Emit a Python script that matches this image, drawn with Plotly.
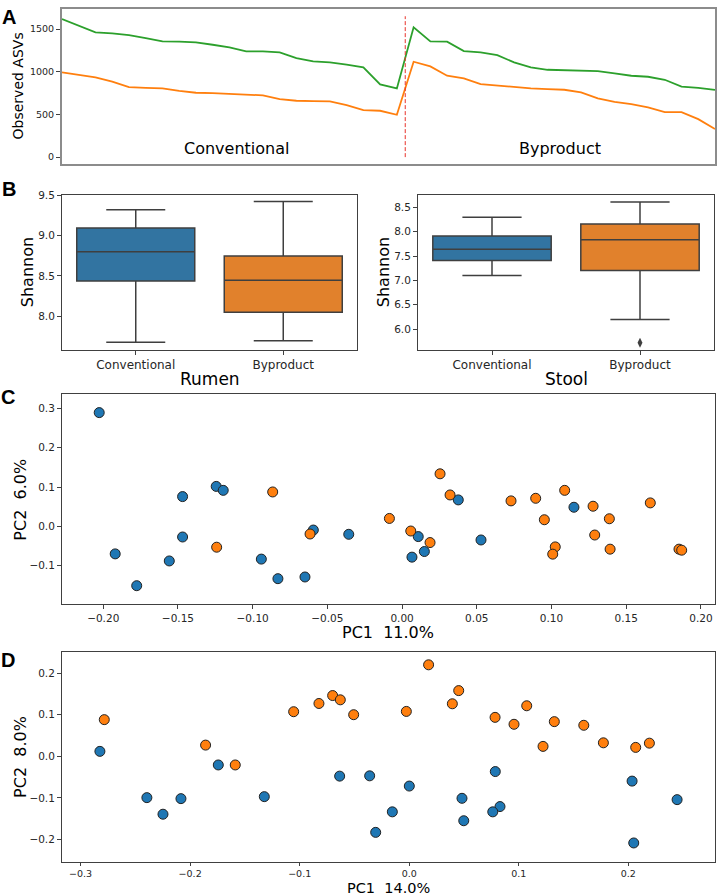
import plotly.graph_objects as go

W, H = 717, 896

# ---------------- data ----------------
# Panel A: observed ASVs per sample (sorted within group)
asv_green = [1617, 1535, 1461, 1449, 1430, 1395, 1355, 1352, 1344, 1316, 1285,
             1238, 1238, 1227, 1160, 1121, 1109, 1082, 1051, 852, 805,
             1520, 1355, 1352, 1242, 1227, 1195, 1109, 1051, 1023, 1016,
             1012, 1008, 980, 953, 941, 906, 826, 812, 788]
asv_orange = [992, 965, 934, 883, 820, 812, 805, 777, 754, 750, 742,
              734, 723, 680, 660, 656, 652, 609, 551, 543, 496,
              1117, 1063, 953, 922, 855, 836, 820, 805, 797, 789,
              758, 688, 648, 621, 582, 527, 527, 445, 330]
n_conventional = 21
group_labels = ["Conventional", "Byproduct"]
divider_top = 1650

# Panel B: Shannon box statistics [lowerfence, q1, median, q3, upperfence]
rumen_conv = [7.676, 8.437, 8.80, 9.093, 9.318]
rumen_byp = [7.697, 8.049, 8.446, 8.745, 9.42]
stool_conv = [7.102, 7.408, 7.639, 7.912, 8.30]
stool_byp = [6.196, 7.204, 7.837, 8.157, 8.61]
stool_byp_outliers = [5.72]

# Panel C: PCoA (rumen)
c_blue_x = [-0.2027, -0.192, -0.1776, -0.1558, -0.1469, -0.1469, -0.1244, -0.1197,
            -0.0942, -0.0831, -0.065, -0.0594, -0.0357, 0.0108, 0.0066, 0.0149,
            0.0376, 0.0528, 0.115]
c_blue_y = [0.2896, -0.070, -0.151, -0.088, 0.0758, -0.027, 0.1018, 0.0917,
            -0.0833, -0.1331, -0.1288, -0.0093, -0.0202, -0.026, -0.0783, -0.064,
            0.0674, -0.0346, 0.0487]
c_orange_x = [-0.0866, -0.1241, -0.0616, -0.0085, 0.0058, 0.0187, 0.0254, 0.0321,
              0.0729, 0.0894, 0.0952, 0.1088, 0.1025, 0.1008, 0.1278, 0.1289,
              0.1387, 0.1392, 0.1661, 0.1853, 0.1871]
c_orange_y = [0.0876, -0.053, -0.0194, 0.0202, -0.0118, -0.0412, 0.1338, 0.080,
              0.0649, 0.0715, 0.0169, 0.0917, -0.0522, -0.0707, 0.0513, -0.022,
              0.0194, -0.058, 0.0598, -0.058, -0.0606]

# Panel D: PCoA (stool)
d_blue_x = [-0.2824, -0.2395, -0.2248, -0.2084, -0.1743, -0.1323, -0.0635, -0.0361,
            0.0001, -0.0154, -0.0306, 0.0482, 0.0498, 0.0786, 0.0829, 0.0763,
            0.2035, 0.2050, 0.2446]
d_blue_y = [0.0119, -0.0995, -0.1394, -0.1019, -0.0208, -0.0971, -0.0477, -0.047,
            -0.0716, -0.1337, -0.1831, -0.1011, -0.1551, -0.0367, -0.121, -0.1337,
            -0.0597, -0.2086, -0.1043]
d_orange_x = [-0.2784, -0.1859, -0.1588, -0.1055, -0.0824, -0.0699, -0.0629, -0.0507,
              0.0177, -0.0026, 0.0394, 0.0452, 0.0784, 0.0957, 0.1073, 0.1222,
              0.1325, 0.1594, 0.1773, 0.2068, 0.2193]
d_orange_y = [0.0883, 0.027, -0.0208, 0.1074, 0.1272, 0.1463, 0.136, 0.1002,
              0.2203, 0.1081, 0.1265, 0.1582, 0.0938, 0.0771, 0.1217, 0.0239,
              0.0835, 0.0747, 0.0325, 0.0215, 0.0317]

# ---------------- style ----------------
FONT = "DejaVu Sans"
BLUE, ORANGE, GREEN = "#1f77b4", "#ff7f0e", "#2ca02c"
BOX_BLUE, BOX_ORANGE = "#3274a1", "#e1812c"
BOX_LINE = "#3f3f3f"
AXC = "#404040"


def px_x(p):
    return p / W


def px_y(p):
    return 1 - p / H


def axis(**kw):
    d = dict(showline=True, mirror=True, linecolor=AXC, linewidth=1,
             ticks="outside", ticklen=4, tickwidth=1, tickcolor=AXC,
             showgrid=False, zeroline=False,
             tickfont=dict(family=FONT, size=10.5, color="#262626"))
    d.update(kw)
    return d


fig = go.Figure()

# ---- Panel A ----
idx = list(range(len(asv_green)))
fig.add_trace(go.Scatter(x=idx, y=asv_green, mode="lines",
                         line=dict(color=GREEN, width=1.8), xaxis="x", yaxis="y"))
fig.add_trace(go.Scatter(x=idx, y=asv_orange, mode="lines",
                         line=dict(color=ORANGE, width=1.8), xaxis="x", yaxis="y"))
fig.add_shape(type="line", xref="x", yref="y",
              x0=n_conventional - 0.5, x1=n_conventional - 0.5, y0=0, y1=divider_top,
              line=dict(color="#e8332a", width=1, dash="4px,2px"))

# ---- Panel B ----
def add_box(cat, stats, color, xa, ya):
    fig.add_trace(go.Box(x=[cat], lowerfence=[stats[0]], q1=[stats[1]], median=[stats[2]],
                         q3=[stats[3]], upperfence=[stats[4]], orientation="v",
                         width=0.8, whiskerwidth=0.5, fillcolor=color,
                         line=dict(color=BOX_LINE, width=1.5), boxpoints=False,
                         xaxis=xa, yaxis=ya))


add_box(group_labels[0], rumen_conv, BOX_BLUE, "x2", "y2")
add_box(group_labels[1], rumen_byp, BOX_ORANGE, "x2", "y2")
add_box(group_labels[0], stool_conv, BOX_BLUE, "x3", "y3")
add_box(group_labels[1], stool_byp, BOX_ORANGE, "x3", "y3")
fig.add_trace(go.Scatter(x=[group_labels[1]] * len(stool_byp_outliers), y=stool_byp_outliers,
                         mode="markers", marker=dict(symbol="diamond-tall", size=7, color=BOX_LINE),
                         xaxis="x3", yaxis="y3"))

# ---- Panels C, D ----
mk = lambda c: dict(color=c, size=10, line=dict(color="#222222", width=1))
fig.add_trace(go.Scatter(x=c_blue_x, y=c_blue_y, mode="markers", marker=mk(BLUE), xaxis="x4", yaxis="y4"))
fig.add_trace(go.Scatter(x=c_orange_x, y=c_orange_y, mode="markers", marker=mk(ORANGE), xaxis="x4", yaxis="y4"))
fig.add_trace(go.Scatter(x=d_blue_x, y=d_blue_y, mode="markers", marker=mk(BLUE), xaxis="x5", yaxis="y5"))
fig.add_trace(go.Scatter(x=d_orange_x, y=d_orange_y, mode="markers", marker=mk(ORANGE), xaxis="x5", yaxis="y5"))

cat_axis = dict(type="category", categoryorder="array", categoryarray=group_labels,
                range=[-0.5, 1.5], tickfont=dict(family=FONT, size=12, color="#262626"))

layout = dict(
    width=W, height=H, margin=dict(l=0, r=0, t=0, b=0),
    paper_bgcolor="white", plot_bgcolor="white", showlegend=False, boxmode="overlay",
    # A
    xaxis=axis(domain=[px_x(62), px_x(715)], anchor="y", range=[0, len(asv_green) - 1],
               showticklabels=False, ticks="", linecolor="#8c8c8c", linewidth=2),
    yaxis=axis(domain=[px_y(159), px_y(3)], anchor="x", range=[-80, 1735],
               tickvals=[0, 500, 1000, 1500], linecolor="#8c8c8c", linewidth=2,
               tickfont=dict(family=FONT, size=9.5, color="#262626")),
    # B left
    xaxis2=axis(domain=[px_x(62), px_x(357)], anchor="y2", **cat_axis),
    yaxis2=axis(domain=[px_y(346), px_y(190)], anchor="x2", range=[7.585, 9.505],
                tickvals=[8.0, 8.5, 9.0, 9.5], tickformat=".1f"),
    # B right
    xaxis3=axis(domain=[px_x(418), px_x(714)], anchor="y3", **cat_axis),
    yaxis3=axis(domain=[px_y(346), px_y(190)], anchor="x3", range=[5.578, 8.76],
                tickvals=[6.0, 6.5, 7.0, 7.5, 8.0, 8.5], tickformat=".1f"),
    # C
    xaxis4=axis(domain=[px_x(62), px_x(715)], anchor="y4", range=[-0.2276, 0.2094],
                tickvals=[-0.20, -0.15, -0.10, -0.05, 0.0, 0.05, 0.10, 0.15, 0.20], tickformat=".2f"),
    yaxis4=axis(domain=[px_y(602), px_y(391)], anchor="x4", range=[-0.1975, 0.336],
                tickvals=[-0.1, 0.0, 0.1, 0.2, 0.3], tickformat=".1f"),
    # D
    xaxis5=axis(domain=[px_x(62), px_x(715)], anchor="y5", range=[-0.317, 0.2792],
                tickvals=[-0.3, -0.2, -0.1, 0.0, 0.1, 0.2], tickformat=".1f", ticklen=2.5,
                tickfont=dict(family=FONT, size=9.5, color="#262626")),
    yaxis5=axis(domain=[px_y(862), px_y(650)], anchor="x5", range=[-0.255, 0.252],
                tickvals=[-0.2, -0.1, 0.0, 0.1, 0.2], tickformat=".1f"),
)
fig.update_layout(**layout)


def note(text, x, y, size, angle=0, bold=False, family=FONT, yanchor="middle"):
    fig.add_annotation(text=f"<b>{text}</b>" if bold else text, x=px_x(x), y=px_y(y),
                       xref="paper", yref="paper", showarrow=False, textangle=angle,
                       xanchor="center", yanchor=yanchor, borderpad=0,
                       font=dict(family=family, size=size, color="#000000"))


# panel letters
for letter, (lx, ly) in {"A": (9, 11), "B": (9, 184), "C": (8, 394), "D": (8, 658)}.items():
    note(letter, lx, ly, 20, bold=True, family="Liberation Sans")

# panel A text
note("Observed ASVs", 18, 81, 14, angle=-90)
note(group_labels[0], 236, 143, 16)
note(group_labels[1], 560, 143, 16)

# panel B titles
note("Shannon", 27, 268, 16, angle=-90)
note("Shannon", 383, 268, 16, angle=-90)
note("Rumen", 210, 376, 17)
note("Stool", 566, 376, 17)

# panel C/D titles
note("PC2  6.0%", 21, 497, 16, angle=-90)
note("PC1  11.0%", 388, 631, 16)
note("PC2  8.0%", 21, 756, 16, angle=-90)
note("PC1  14.0%", 388, 897, 14.5, yanchor="bottom")

fig.write_html("out.html", config={"displayModeBar": False},
               post_script="document.body.style.margin='0';document.body.style.overflow='hidden';")
